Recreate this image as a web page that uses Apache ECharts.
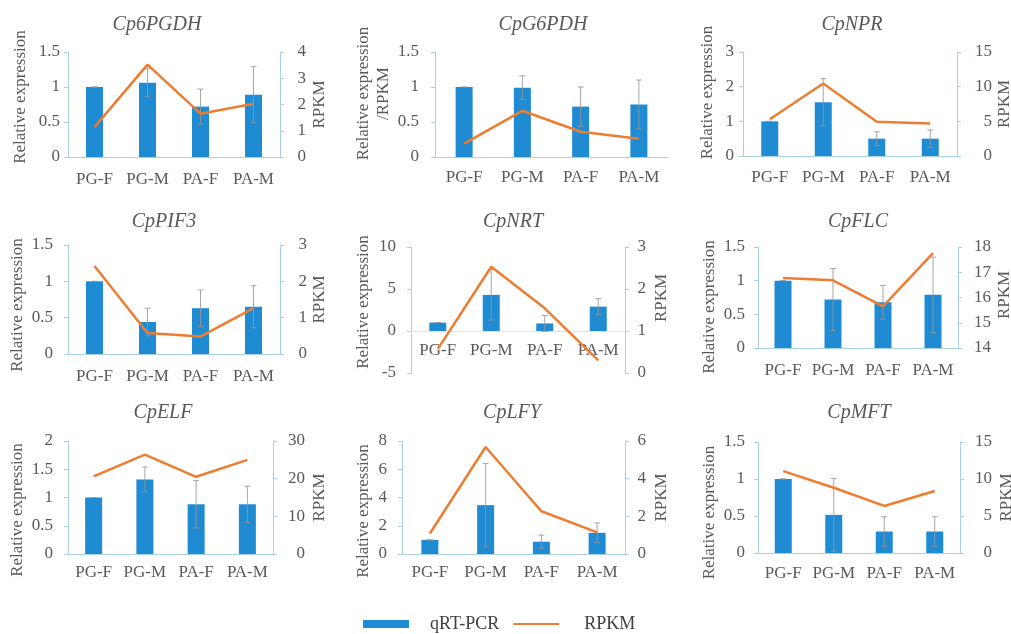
<!DOCTYPE html>
<html>
<head>
<meta charset="utf-8">
<script src="https://cdn.jsdelivr.net/npm/echarts@6/dist/echarts.min.js"></script>
<style>
  html, body { margin: 0; padding: 0; background: #fff; }
  #main { width: 1011px; height: 634px; }
</style>
</head>
<body>
<div id="main"></div>
<script>
// categories and gene names
const categories = ['PG-F', 'PG-M', 'PA-F', 'PA-M'];
const genes = ['Cp6PGDH', 'CpG6PDH', 'CpNPR', 'CpPIF3', 'CpNRT', 'CpFLC', 'CpELF', 'CpLFY', 'CpMFT'];

// qRT-PCR relative expression (bars), one row per gene
const qpcrMean = [
  [1.0, 1.06, 0.72, 0.89],
  [1.0, 0.99, 0.72, 0.75],
  [1.0, 1.55, 0.5, 0.5],
  [1.0, 0.44, 0.63, 0.65],
  [1.0, 4.3, 0.9, 2.9],
  [1.0, 0.72, 0.68, 0.79],
  [1.0, 1.32, 0.88, 0.88],
  [1.0, 3.46, 0.87, 1.5],
  [1.0, 0.515, 0.29, 0.29]
];
// error bar half-lengths
const qpcrErr = [
  [0, 0.2, 0.25, 0.4],
  [0, 0.17, 0.28, 0.35],
  [0, 0.68, 0.2, 0.25],
  [0, 0.19, 0.25, 0.29],
  [0, 3.0, 0.95, 0.95],
  [0, 0.46, 0.25, 0.56],
  [0, 0.22, 0.42, 0.32],
  [0, 2.94, 0.47, 0.7],
  [0, 0.49, 0.2, 0.2]
];
// RPKM (lines)
const rpkm = [
  [1.14, 3.52, 1.65, 2.03],
  [0.19, 0.66, 0.36, 0.26],
  [5.3, 10.45, 4.94, 4.7],
  [2.42, 0.58, 0.48, 1.26],
  [0.57, 2.53, 1.54, 0.30],
  [16.77, 16.68, 15.65, 17.76],
  [20.6, 26.4, 20.5, 25.0],
  [1.09, 5.68, 2.27, 1.15],
  [11.06, 8.82, 6.36, 8.37]
];
// axis ticks [min, max, interval]; null = no secondary axis
const leftTicks = [[0, 1.5, 0.5], [0, 1.5, 0.5], [0, 3, 1], [0, 1.5, 0.5], [-5, 10, 5], [0, 1.5, 0.5], [0, 2, 0.5], [0, 8, 2], [0, 1.5, 0.5]];
const rightTicks = [[0, 4, 1], null, [0, 15, 5], [0, 3, 1], [0, 3, 1], [14, 18, 1], [0, 30, 10], [0, 6, 2], [0, 15, 5]];

// layout of the 9 panels (pixels)
const panels = [
  { l: 68,  r: 280, t: 52,  b: 157, tx: 157, ty: 25,  xm: 14, lm: 8,  rm: 26, lg: 37, rg: 31, ls: -7.5, rs: 0 },
  { l: 435, r: 668, t: 52,  b: 157, tx: 543, ty: 25,  xm: 12, lm: 16, rm: 0,  lg: 41, rg: 0,  ls: -11,  rs: 0 },
  { l: 743, r: 957, t: 52,  b: 156, tx: 852, ty: 25,  xm: 13, lm: 9,  rm: 35, lg: 25, rg: 37, ls: -11.5, rs: 0 },
  { l: 68,  r: 280, t: 245, b: 354, tx: 164, ty: 222, xm: 14, lm: 15, rm: 27, lg: 37, rg: 31, ls: 5.5,  rs: 0 },
  { l: 411, r: 625, t: 247, b: 373, tx: 513, ty: 222, xm: 11, lm: 15, rm: 21, lg: 37, rg: 28, ls: -8,   rs: -12 },
  { l: 758, r: 958, t: 247, b: 348, tx: 858, ty: 222, xm: 14, lm: 13, rm: 33, lg: 36, rg: 38, ls: 9.5,  rs: -2.5 },
  { l: 68,  r: 273, t: 441, b: 554, tx: 163, ty: 413, xm: 10, lm: 15, rm: 32, lg: 37, rg: 38, ls: 12.5, rs: 0 },
  { l: 402, r: 625, t: 441, b: 554, tx: 512, ty: 413, xm: 10, lm: 15, rm: 21, lg: 28, rg: 28, ls: 13.5, rs: 0 },
  { l: 758, r: 960, t: 442, b: 553, tx: 859, ty: 413, xm: 12, lm: 13, rm: 32, lg: 37, rg: 38, ls: 15,   rs: 0 }
];

const FONT = 'Liberation Serif';
const TEXT = '#595959';
const AXIS = '#a8cfe3';
const BAR = '#1e8bd3';
const LINE = '#ed7d31';
const ERR = 'rgba(150,150,150,0.85)';

// shift a rotated name along the axis (negative = up)
function namePad(s) {
  if (s < 0) return [0, 0, 0, -2 * s];
  if (s > 0) return [0, 2 * s, 0, 0];
  return 0;
}

const chart = echarts.init(document.getElementById('main'));

const grid = [], xAxis = [], yAxis = [], title = [], series = [];

panels.forEach((p, i) => {
  const lt = leftTicks[i];
  const rt = rightTicks[i];
  const h = p.b - p.t;

  grid.push({ left: p.l, top: p.t, width: p.r - p.l, height: h, containLabel: false, outerBoundsMode: 'none' });

  title.push({
    text: genes[i],
    left: p.tx, top: p.ty,
    textAlign: 'center', textVerticalAlign: 'middle',
    padding: 0,
    textStyle: { fontFamily: FONT, fontStyle: 'italic', fontWeight: 'normal', fontSize: 20, color: TEXT }
  });

  // category axis sits on the zero line when the value axis goes negative
  const zeroLift = lt[0] < 0 ? -h * (0 - lt[0]) / (lt[1] - lt[0]) : 0;
  xAxis.push({
    type: 'category', gridIndex: i, data: categories,
    offset: zeroLift,
    axisLine: { onZero: false, lineStyle: { color: lt[0] < 0 ? '#e2e2e2' : AXIS, width: 1 } },
    axisTick: { show: false },
    axisLabel: { interval: 0, hideOverlap: false, margin: p.xm, color: TEXT, fontFamily: FONT, fontSize: 17 },
    z: 1
  });

  yAxis.push({
    type: 'value', gridIndex: i, position: 'left',
    min: lt[0], max: lt[1], interval: lt[2],
    name: i === 1 ? 'Relative expression\n/RPKM' : 'Relative expression',
    nameLocation: 'middle', nameGap: p.lg,
    nameTextStyle: { fontFamily: FONT, fontSize: 17, color: TEXT, lineHeight: 20, padding: namePad(p.ls) },
    axisLine: { show: true, onZero: false, lineStyle: { color: AXIS } },
    axisTick: { show: true, length: 4, lineStyle: { color: AXIS } },
    splitLine: { show: false },
    axisLabel: { margin: p.lm, color: TEXT, fontFamily: FONT, fontSize: 17 }
  });

  if (rt) {
    yAxis.push({
      type: 'value', gridIndex: i, position: 'right',
      min: rt[0], max: rt[1], interval: rt[2],
      name: 'RPKM', nameLocation: 'middle', nameGap: p.rg,
      nameTextStyle: { fontFamily: FONT, fontSize: 17, color: TEXT, padding: namePad(p.rs) },
      axisLine: { show: true, onZero: false, lineStyle: { color: AXIS } },
      axisTick: { show: true, length: 4, lineStyle: { color: AXIS } },
      splitLine: { show: false },
      axisLabel: { margin: p.rm, align: 'right', color: TEXT, fontFamily: FONT, fontSize: 17 }
    });
  } else {
    yAxis.push({ type: 'value', gridIndex: i, show: false, splitLine: { show: false } });
  }

  series.push({
    name: 'qRT-PCR', type: 'bar',
    xAxisIndex: i, yAxisIndex: 2 * i,
    data: qpcrMean[i], barWidth: 17,
    itemStyle: { color: BAR },
    z: 2
  });

  series.push({
    type: 'custom',
    xAxisIndex: i, yAxisIndex: 2 * i,
    data: qpcrMean[i].map((v, j) => [j, v - qpcrErr[i][j], v + qpcrErr[i][j]]),
    encode: { x: 0, y: [1, 2] },
    renderItem: (params, api) => {
      const x = api.value(0);
      const lo = api.coord([x, api.value(1)]);
      const hi = api.coord([x, api.value(2)]);
      const st = { stroke: ERR, lineWidth: 1 };
      return {
        type: 'group',
        children: [
          { type: 'line', shape: { x1: lo[0], y1: lo[1], x2: hi[0], y2: hi[1] }, style: st },
          { type: 'line', shape: { x1: hi[0] - 3, y1: hi[1], x2: hi[0] + 3, y2: hi[1] }, style: st },
          { type: 'line', shape: { x1: lo[0] - 3, y1: lo[1], x2: lo[0] + 3, y2: lo[1] }, style: st }
        ]
      };
    },
    silent: true,
    z: 3
  });

  series.push({
    name: 'RPKM', type: 'line',
    xAxisIndex: i, yAxisIndex: rt ? 2 * i + 1 : 2 * i,
    data: rpkm[i],
    symbol: 'none',
    lineStyle: { color: LINE, width: 2.5 },
    itemStyle: { color: LINE },
    z: 4
  });
});

chart.setOption({
  animation: false,
  backgroundColor: '#fff',
  title: title,
  grid: grid,
  xAxis: xAxis,
  yAxis: yAxis,
  legend: {
    data: [
      { name: 'qRT-PCR', icon: 'rect' },
      { name: 'RPKM', itemStyle: { opacity: 0 }, textStyle: { padding: [0, 0, 0, 20] } }
    ],
    left: 363, top: 615,
    padding: 0,
    itemWidth: 46, itemHeight: 8,
    itemGap: 13,
    selectedMode: false,
    textStyle: { fontFamily: FONT, fontSize: 18, color: '#404040', padding: [0, 0, 0, 16] }
  },
  series: series
});
</script>
</body>
</html>
